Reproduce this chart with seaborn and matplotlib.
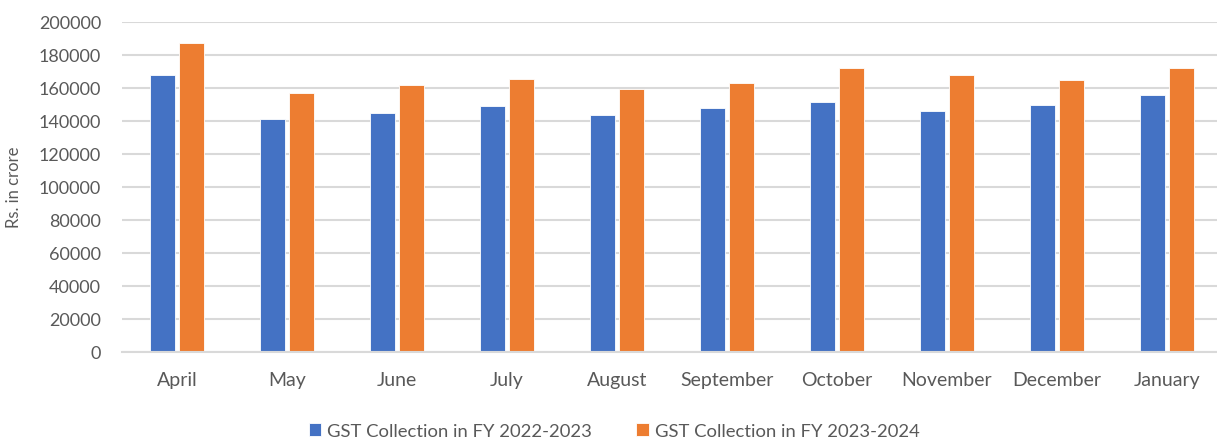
import pandas as pd
import matplotlib.pyplot as plt
import seaborn as sns

# GST collection, Rs. in crore
months = ['April', 'May', 'June', 'July', 'August', 'September',
          'October', 'November', 'December', 'January']
fy_2022_23 = [167540, 140885, 144616, 148995, 143612, 147686,
              151718, 145867, 149507, 155922]
fy_2023_24 = [187035, 157090, 161497, 165105, 159069, 162712,
              172003, 167929, 164882, 172129]
series_names = ['GST Collection in FY 2022-2023', 'GST Collection in FY 2023-2024']
y_ticks = list(range(0, 200001, 20000))

df = pd.DataFrame({
    'month': months * 2,
    'value': fy_2022_23 + fy_2023_24,
    'series': [series_names[0]] * len(months) + [series_names[1]] * len(months),
})

sns.set_style('white')
plt.rcParams['font.family'] = ['Lato', 'DejaVu Sans']

fig = plt.figure(figsize=(12.17, 4.39), dpi=100)
ax = fig.add_axes([122 / 1217, 86.5 / 439, 1100 / 1217, 329.5 / 439])

sns.barplot(data=df, x='month', y='value', hue='series', order=months,
            palette=['#4472C4', '#ED7D31'], saturation=1, width=0.51, gap=0.11,
            edgecolor='white', linewidth=0.6, ax=ax)

ax.set_xlim(-0.5, len(months) - 0.5)
ax.set_ylim(0, 200000)
ax.set_yticks(y_ticks)
ax.set_yticklabels([str(t) for t in y_ticks])
ax.yaxis.grid(True, color='#D9D9D9', linewidth=1.5)
ax.set_axisbelow(True)
for s in ['top', 'right', 'left']:
    ax.spines[s].set_visible(False)
ax.spines['bottom'].set_color('#D9D9D9')
ax.spines['bottom'].set_linewidth(1.5)
ax.tick_params(axis='both', length=0, colors='#595959')
ax.tick_params(axis='y', pad=15, labelsize=13)
ax.tick_params(axis='x', pad=14, labelsize=14)
ax.set_xlabel('')
ax.set_ylabel('Rs. in crore', fontsize=12, color='#595959', labelpad=12)

handles, labels = ax.get_legend_handles_labels()
ax.legend(handles, labels, loc='center', bbox_to_anchor=(614 / 1217, 7 / 439),
          bbox_transform=fig.transFigure, ncol=2, frameon=False, fontsize=13.3,
          handlelength=0.7, handleheight=0.7, handletextpad=0.3, columnspacing=2.4,
          labelcolor='#595959')

plt.savefig('out.png', dpi=100)
